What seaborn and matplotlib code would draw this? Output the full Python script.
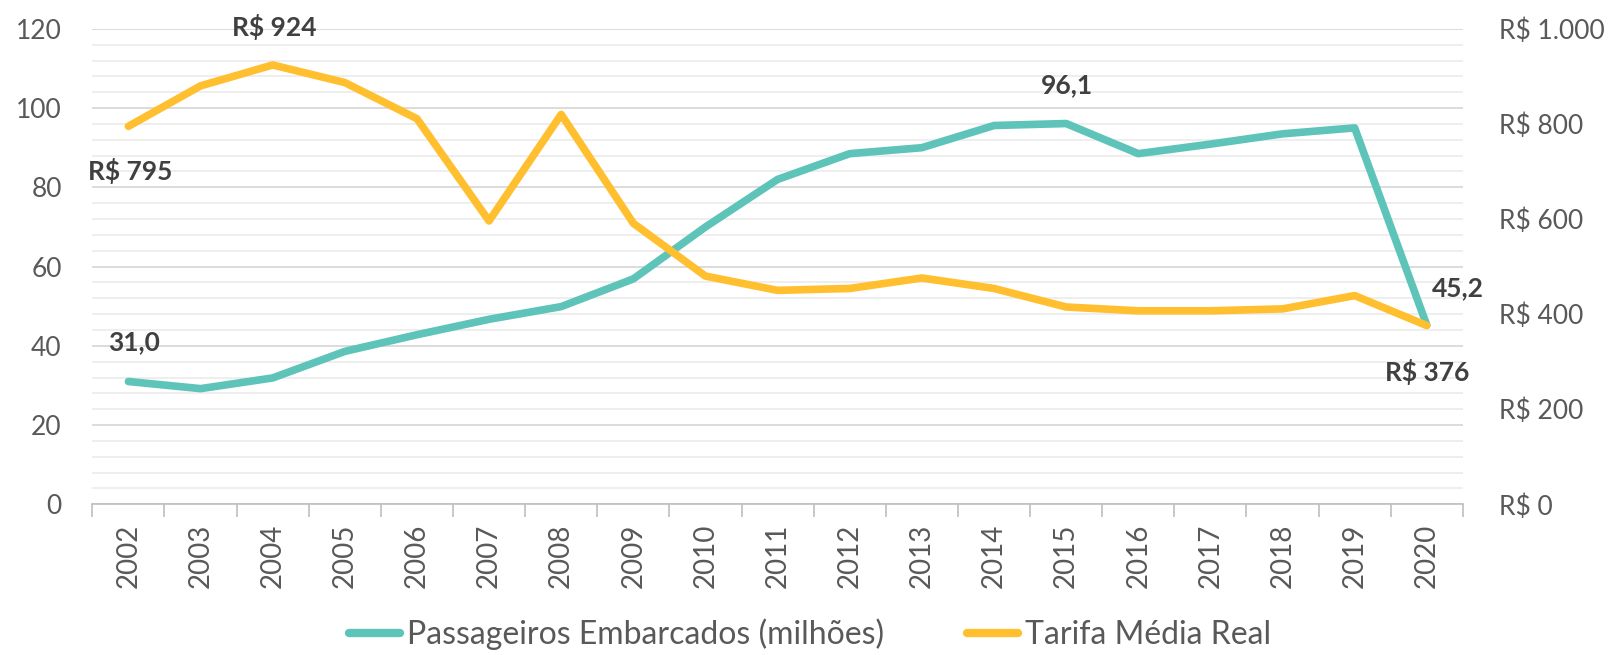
import numpy as np
import pandas as pd
import matplotlib
matplotlib.use("Agg")
import matplotlib.pyplot as plt
import seaborn as sns
from matplotlib.lines import Line2D
from matplotlib.ticker import FixedLocator, MultipleLocator, FuncFormatter

# data
years = list(range(2002, 2021))
passageiros = [31.0, 29.2, 31.9, 38.6, 42.8, 46.7, 49.9, 56.9, 70.0, 82.0,
               88.5, 90.0, 95.6, 96.1, 88.5, 90.9, 93.5, 95.0, 45.2]
tarifa = [795, 880, 924, 887, 811, 596, 820, 591, 480, 450,
          454, 476, 454, 415, 407, 407, 411, 439, 376]

df = pd.DataFrame({"ano": years, "passageiros": passageiros, "tarifa": tarifa})

teal = "#5ec4b9"
gold = "#ffbf2e"
grey = "#595959"
dark = "#404040"

sns.set_theme(style="white")
plt.rcParams["font.family"] = ["Lato", "DejaVu Sans"]

fig, ax = plt.subplots(figsize=(16.2, 6.55), dpi=100)
fig.subplots_adjust(left=0.057, right=0.903, top=0.956, bottom=0.23)
ax2 = ax.twinx()

# gridlines on the left axis
ax.set_ylim(0, 120)
ax.yaxis.set_major_locator(MultipleLocator(20))
ax.yaxis.set_minor_locator(MultipleLocator(4))
ax.grid(which="major", axis="y", color="#d9d9d9", lw=1.3)
ax.grid(which="minor", axis="y", color="#ededed", lw=1.3)
ax.set_axisbelow(True)

sns.lineplot(data=df, x="ano", y="passageiros", ax=ax, color=teal, lw=5.5,
             solid_capstyle="round", solid_joinstyle="round", zorder=3)
sns.lineplot(data=df, x="ano", y="tarifa", ax=ax2, color=gold, lw=5.5,
             solid_capstyle="round", solid_joinstyle="round", zorder=3)

ax2.set_ylim(0, 1000)
ax2.set_yticks(range(0, 1001, 200))
ax2.yaxis.set_major_formatter(FuncFormatter(
    lambda v, p: "R$ " + f"{int(v):,}".replace(",", ".")))

ax.set_xlim(years[0] - 0.5, years[-1] + 0.5)
ax.set_xticks(years)
ax.set_xticklabels([str(y) for y in years], rotation=90)
ax.xaxis.set_minor_locator(FixedLocator(np.arange(years[0] - 0.5, years[-1] + 1, 1)))
ax.tick_params(axis="x", which="major", length=0, pad=14, labelsize=20, labelcolor=grey)
ax.tick_params(axis="x", which="minor", length=9, width=1.2, color="#bfbfbf", bottom=True)
ax.tick_params(axis="y", which="both", length=0, pad=22, labelsize=19, labelcolor=grey)
ax2.tick_params(axis="y", length=0, pad=26, labelsize=19, labelcolor=grey)

for a in (ax, ax2):
    a.set_xlabel("")
    a.set_ylabel("")
    for s in a.spines.values():
        s.set_visible(False)
ax.spines["bottom"].set_visible(True)
ax.spines["bottom"].set_color("#bfbfbf")
ax.spines["bottom"].set_linewidth(1.2)

# data labels
lab = dict(textcoords="offset pixels", ha="center", va="center",
           fontsize=19, fontweight="bold", color=dark, zorder=5)
ax2.annotate("R$ 924", (2004, 924), xytext=(2, 38), **lab)
ax2.annotate("R$ 795", (2002, 795), xytext=(2, -45), **lab)
ax.annotate("31,0", (2002, 31.0), xytext=(6, 39), **lab)
ax.annotate("96,1", (2015, 96.1), xytext=(1, 38), **lab)
ax.annotate("45,2", (2020, 45.2), xytext=(31, 37), **lab)
ax2.annotate("R$ 376", (2020, 376), xytext=(0, -46), **lab)

handles = [Line2D([], [], color=teal, lw=6, solid_capstyle="round"),
           Line2D([], [], color=gold, lw=6, solid_capstyle="round")]
fig.legend(handles, ["Passageiros Embarcados (milhões)", "Tarifa Média Real"],
           loc="center", bbox_to_anchor=(0.5, 0.032), ncol=2, frameon=False,
           fontsize=23, labelcolor=grey, handlelength=1.6, handletextpad=0.2,
           columnspacing=2.6)

fig.savefig("out.png", dpi=100)
